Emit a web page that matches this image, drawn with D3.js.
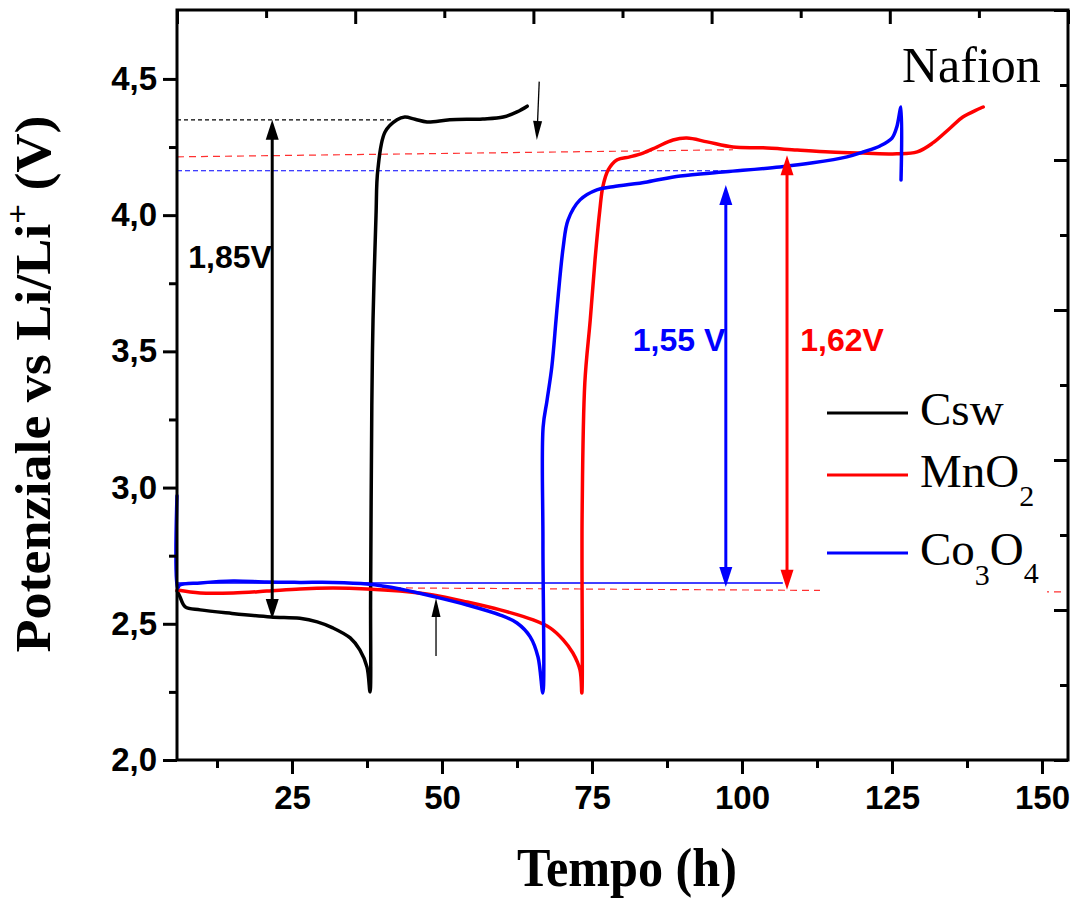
<!DOCTYPE html>
<html>
<head>
<meta charset="utf-8">
<script src="https://cdn.jsdelivr.net/npm/d3@7"></script>
<style>
body { margin: 0; background: #fff; }
svg { display: block; }
.num { font-family: "Liberation Sans", Arial, sans-serif; font-weight: bold; }
.serif { font-family: "Liberation Serif", "Times New Roman", serif; }
</style>
</head>
<body>
<div id="chart"></div>
<script>
// tick values
var xTickValues = [25, 50, 75, 100, 125, 150];
var xMinorValues = [12.5, 37.5, 62.5, 87.5, 112.5, 137.5];
var yTickValues = [2.0, 2.5, 3.0, 3.5, 4.0, 4.5];
var yMinorValues = [2.25, 2.75, 3.25, 3.75, 4.25];

// Csw (black)
var cswTime = [5.85, 6.3, 7.2, 9.7, 15, 21.5, 26.3, 29.2, 31.8, 34.7, 36.3, 37.5, 38.0, 38.1, 38.3, 38.5, 39.0, 39.3, 40.5, 42.5, 43.8, 45.5, 47.5, 51.3, 56.8, 60.2, 62.5, 64.2];
var cswVolt = [2.62, 2.60, 2.562, 2.551, 2.538, 2.525, 2.52, 2.507, 2.485, 2.448, 2.404, 2.341, 2.25, 2.6, 3.3, 3.615, 4.0, 4.166, 4.305, 4.35, 4.36, 4.352, 4.342, 4.35, 4.353, 4.36, 4.379, 4.40];

// MnO2 (red)
var mno2Time = [5.85, 9.7, 15.2, 20.8, 26.3, 31.8, 37.5, 43, 48.5, 54.2, 59.7, 65.2, 68, 70.2, 71.8, 73, 73.3, 73.35, 73.8, 74.7, 75.5, 76.3, 76.8, 77.7, 79.2, 81.3, 83.5, 85.8, 88.5, 90.8, 94.2, 98.5, 103.5, 109.2, 114.7, 120.2, 125.8, 129.2, 131.8, 134.7, 136.8, 140.2];
var mno2Volt = [2.624, 2.613, 2.613, 2.62, 2.628, 2.631, 2.628, 2.62, 2.606, 2.58, 2.551, 2.514, 2.485, 2.441, 2.393, 2.33, 2.246, 2.9, 3.384, 3.615, 3.836, 4.019, 4.104, 4.166, 4.203, 4.214, 4.228, 4.25, 4.276, 4.283, 4.269, 4.25, 4.247, 4.239, 4.232, 4.228, 4.225, 4.232, 4.265, 4.32, 4.36, 4.397];

// Co3O4 (blue)
var co3o4Time = [5.83, 5.9, 6.3, 9.7, 15.2, 20.8, 26.3, 31.8, 37.5, 43, 49, 54.2, 59.7, 62.5, 64.7, 66, 66.8, 66.82, 66.85, 67.5, 68.3, 69.0, 69.3, 70.2, 71.0, 73, 75.8, 78.5, 84.2, 89.7, 97.3, 106.3, 111.8, 117.5, 120.2, 123, 125, 125.8, 126.5, 126.5];
var co3o4Volt = [2.97, 2.63, 2.642, 2.65, 2.657, 2.653, 2.652, 2.652, 2.646, 2.628, 2.598, 2.569, 2.532, 2.503, 2.452, 2.378, 2.246, 2.8, 3.222, 3.32, 3.443, 3.615, 3.689, 3.883, 3.982, 4.056, 4.093, 4.104, 4.122, 4.144, 4.159, 4.177, 4.192, 4.214, 4.232, 4.254, 4.283, 4.324, 4.397, 4.129];

// reference lines [t0, v0, t1, v1]
var cswLevel = [5.83, 4.35, 42, 4.35];
var mno2Level = [5.83, 4.214, 98.5, 4.24];
var co3o4Level = [5.83, 4.163, 97.3, 4.163];
var co3o4Base = [5.83, 2.65, 106.8, 2.65];
var mno2Base = [40, 2.632, 153.8, 2.617];

// double arrows [t, vLow, vHigh]
var cswArrow = [21.7, 2.518, 4.35];
var co3o4Arrow = [97.3, 2.635, 4.111];
var mno2Arrow = [107.5, 2.625, 4.22];
// thin pointers [tFrom, vFrom, tTo, vTo]
var downPointer = [66.2, 4.49, 65.8, 4.276];
var upPointer = [49, 2.382, 49, 2.595];

var seriesNames = ["Csw", "MnO2", "Co3O4"];
var seriesColors = ["#000000", "#ff0000", "#0000ff"];

PotentialChart = function(_parentElement) {
    this.parentElement = _parentElement;
    this.initVis();
};

PotentialChart.prototype.initVis = function() {
    var vis = this;
    vis.margin = {top: 10, right: 8, bottom: 142, left: 177};
    vis.width = 1076 - vis.margin.left - vis.margin.right;
    vis.height = 902 - vis.margin.top - vis.margin.bottom;

    vis.svgRoot = d3.select(vis.parentElement).append("svg")
        .attr("width", 1076)
        .attr("height", 902);
    vis.svg = vis.svgRoot.append("g")
        .attr("transform", "translate(" + vis.margin.left + "," + vis.margin.top + ")");

    vis.x = d3.scaleLinear().domain([5.83, 154.33]).range([0, vis.width]);
    vis.y = d3.scaleLinear().domain([2.0, 4.753]).range([vis.height, 0]);

    vis.line = d3.line()
        .curve(d3.curveCatmullRom.alpha(0.5))
        .x(function(d) { return vis.x(d[0]); })
        .y(function(d) { return vis.y(d[1]); });

    vis.wrangleData();
};

PotentialChart.prototype.wrangleData = function() {
    var vis = this;
    vis.series = [
        d3.zip(cswTime, cswVolt),
        d3.zip(mno2Time, mno2Volt),
        d3.zip(co3o4Time, co3o4Volt)
    ];
    vis.updateVis();
};

PotentialChart.prototype.drawAxes = function() {
    var vis = this;
    var fmt = function(d) { return d3.format(".1f")(d).replace(".", ","); };

    var yAxis = vis.svg.append("g")
        .call(d3.axisLeft(vis.y).tickValues(yTickValues).tickSize(14).tickPadding(6).tickFormat(fmt));
    var yMinor = vis.svg.append("g")
        .call(d3.axisLeft(vis.y).tickValues(yMinorValues).tickSize(8).tickFormat(""));
    var xAxis = vis.svg.append("g")
        .attr("transform", "translate(0," + vis.height + ")")
        .call(d3.axisBottom(vis.x).tickValues(xTickValues).tickSize(14).tickPadding(12).tickFormat(d3.format("d")));
    var xMinor = vis.svg.append("g")
        .attr("transform", "translate(0," + vis.height + ")")
        .call(d3.axisBottom(vis.x).tickValues(xMinorValues).tickSize(8).tickFormat(""));

    // top and right: ten divisions, inward ticks
    var xd = vis.x.domain(), yd = vis.y.domain();
    var topVals = d3.range(11).map(function(i) { return xd[0] + i * (xd[1] - xd[0]) / 10; });
    var rightVals = d3.range(11).map(function(i) { return yd[0] + i * (yd[1] - yd[0]) / 10; });
    var topMajor = vis.svg.append("g")
        .call(d3.axisTop(vis.x).tickValues(topVals.filter(function(d, i) { return i % 2 == 0; })).tickSize(-14).tickFormat(""));
    var topMinor = vis.svg.append("g")
        .call(d3.axisTop(vis.x).tickValues(topVals.filter(function(d, i) { return i % 2 == 1; })).tickSize(-8).tickFormat(""));
    var rightMajor = vis.svg.append("g")
        .attr("transform", "translate(" + vis.width + ",0)")
        .call(d3.axisRight(vis.y).tickValues(rightVals.filter(function(d, i) { return i % 2 == 0; })).tickSize(-14).tickFormat(""));
    var rightMinor = vis.svg.append("g")
        .attr("transform", "translate(" + vis.width + ",0)")
        .call(d3.axisRight(vis.y).tickValues(rightVals.filter(function(d, i) { return i % 2 == 1; })).tickSize(-8).tickFormat(""));

    [yAxis, yMinor, xAxis, xMinor, topMajor, topMinor, rightMajor, rightMinor].forEach(function(g) {
        g.select(".domain").remove();
        g.selectAll(".tick line").attr("stroke", "#000").attr("stroke-width", 3);
        g.selectAll(".tick text")
            .attr("class", "num")
            .attr("font-size", 33)
            .attr("fill", "#000");
    });

    vis.svg.append("rect")
        .attr("x", 0).attr("y", 0)
        .attr("width", vis.width).attr("height", vis.height)
        .attr("fill", "none")
        .attr("stroke", "#000")
        .attr("stroke-width", 3);
};

PotentialChart.prototype.dashed = function(seg, color, dash) {
    var vis = this;
    vis.svg.append("line")
        .attr("x1", vis.x(seg[0])).attr("y1", vis.y(seg[1]))
        .attr("x2", vis.x(seg[2])).attr("y2", vis.y(seg[3]))
        .attr("stroke", color)
        .attr("stroke-width", 1.2)
        .attr("stroke-dasharray", dash);
};

// vertical double-headed arrow
PotentialChart.prototype.doubleArrow = function(a, color) {
    var vis = this;
    var px = vis.x(a[0]), yLow = vis.y(a[1]), yHigh = vis.y(a[2]);
    var hl = 20, hw = 6.5;
    vis.svg.append("line")
        .attr("x1", px).attr("y1", yLow - hl + 2)
        .attr("x2", px).attr("y2", yHigh + hl - 2)
        .attr("stroke", color).attr("stroke-width", 3);
    vis.svg.append("path")
        .attr("d", "M" + px + "," + yHigh + "L" + (px - hw) + "," + (yHigh + hl) + "L" + (px + hw) + "," + (yHigh + hl) + "Z")
        .attr("fill", color);
    vis.svg.append("path")
        .attr("d", "M" + px + "," + yLow + "L" + (px - hw) + "," + (yLow - hl) + "L" + (px + hw) + "," + (yLow - hl) + "Z")
        .attr("fill", color);
};

PotentialChart.prototype.pointer = function(p) {
    var vis = this;
    var x1 = vis.x(p[0]), y1 = vis.y(p[1]), x2 = vis.x(p[2]), y2 = vis.y(p[3]);
    var len = Math.sqrt((x2 - x1) * (x2 - x1) + (y2 - y1) * (y2 - y1));
    var ux = (x2 - x1) / len, uy = (y2 - y1) / len;
    var hl = 19, hw = 4.5;
    var bx = x2 - ux * hl, by = y2 - uy * hl;
    vis.svg.append("line")
        .attr("x1", x1).attr("y1", y1).attr("x2", bx).attr("y2", by)
        .attr("stroke", "#000").attr("stroke-width", 1.3);
    vis.svg.append("path")
        .attr("d", "M" + x2 + "," + y2 + "L" + (bx - uy * hw) + "," + (by + ux * hw) + "L" + (bx + uy * hw) + "," + (by - ux * hw) + "Z")
        .attr("fill", "#000");
};

PotentialChart.prototype.updateVis = function() {
    var vis = this;

    vis.dashed(cswLevel, "#000", "4,3");
    vis.dashed(mno2Level, "#ff3030", "7,5");
    vis.dashed(co3o4Level, "#0000ff", "5,3");
    vis.dashed(mno2Base, "#ff3030", "7,5");

    vis.svg.append("line")
        .attr("x1", vis.x(co3o4Base[0])).attr("y1", vis.y(co3o4Base[1]))
        .attr("x2", vis.x(co3o4Base[2])).attr("y2", vis.y(co3o4Base[3]))
        .attr("stroke", "#0000ff").attr("stroke-width", 1.5);

    vis.svg.selectAll("path.curve")
        .data(vis.series)
        .enter()
        .append("path")
        .attr("class", "curve")
        .attr("d", vis.line)
        .attr("fill", "none")
        .attr("stroke", function(d, i) { return seriesColors[i]; })
        .attr("stroke-width", 3.5)
        .attr("stroke-linejoin", "round")
        .attr("stroke-linecap", "round");

    vis.doubleArrow(cswArrow, "#000");
    vis.doubleArrow(co3o4Arrow, "#0000ff");
    vis.doubleArrow(mno2Arrow, "#ff0000");
    vis.pointer(downPointer);
    vis.pointer(upPointer);

    // voltage labels
    var labels = [
        {t: 7.7, v: 3.806, text: "1,85V", color: "#000"},
        {t: 81.8, v: 3.501, text: "1,55 V", color: "#0000ff"},
        {t: 109.7, v: 3.501, text: "1,62V", color: "#ff0000"}
    ];
    vis.svg.selectAll("text.volt")
        .data(labels)
        .enter()
        .append("text")
        .attr("class", "volt num")
        .attr("x", function(d) { return vis.x(d.t); })
        .attr("y", function(d) { return vis.y(d.v); })
        .attr("font-size", 32)
        .attr("fill", function(d) { return d.color; })
        .text(function(d) { return d.text; });

    vis.drawAxes();
    vis.drawLegend();
    vis.drawTitles();
};

PotentialChart.prototype.drawLegend = function() {
    var vis = this;
    var lg = vis.svgRoot.append("g").attr("transform", "translate(820,380)");
    lg.append("rect")
        .attr("x", 0).attr("y", 0).attr("width", 227).attr("height", 218)
        .attr("fill", "#fff");
    var rows = [33, 95, 173];
    seriesNames.forEach(function(name, i) {
        lg.append("line")
            .attr("x1", 7).attr("x2", 88)
            .attr("y1", rows[i]).attr("y2", rows[i])
            .attr("stroke", seriesColors[i]).attr("stroke-width", 3.2);
    });
    var t0 = lg.append("text").attr("class", "serif").attr("x", 100).attr("y", 45).attr("font-size", 47);
    t0.text("Csw");
    var t1 = lg.append("text").attr("class", "serif").attr("x", 100).attr("y", 107).attr("font-size", 47);
    t1.append("tspan").text("MnO");
    t1.append("tspan").attr("font-size", 30).attr("dy", 19).text("2");
    var t2 = lg.append("text").attr("class", "serif").attr("x", 100).attr("y", 185).attr("font-size", 47);
    t2.append("tspan").text("Co");
    t2.append("tspan").attr("font-size", 30).attr("dy", 20).text("3");
    t2.append("tspan").attr("dy", -20).text("O");
    t2.append("tspan").attr("font-size", 30).attr("dy", 18).text("4");
};

PotentialChart.prototype.drawTitles = function() {
    var vis = this;
    vis.svgRoot.append("text")
        .attr("class", "serif")
        .attr("x", 902).attr("y", 82)
        .attr("font-size", 50)
        .text("Nafion");

    vis.svgRoot.append("text")
        .attr("class", "serif")
        .attr("x", 627).attr("y", 886)
        .attr("text-anchor", "middle")
        .attr("font-size", 54)
        .attr("font-weight", "bold")
        .attr("textLength", 220)
        .attr("lengthAdjust", "spacingAndGlyphs")
        .text("Tempo (h)");

    var yt = vis.svgRoot.append("text")
        .attr("class", "serif")
        .attr("transform", "translate(50,384) rotate(-90)")
        .attr("text-anchor", "middle")
        .attr("font-size", 50)
        .attr("font-weight", "bold")
        .attr("textLength", 537)
        .attr("lengthAdjust", "spacingAndGlyphs");
    yt.append("tspan").text("Potenziale vs Li/Li");
    yt.append("tspan").attr("font-size", 32).attr("dy", -22).text("+");
    yt.append("tspan").attr("dy", 22).text(" (V)");
};

var chart = new PotentialChart("#chart");
</script>
</body>
</html>
